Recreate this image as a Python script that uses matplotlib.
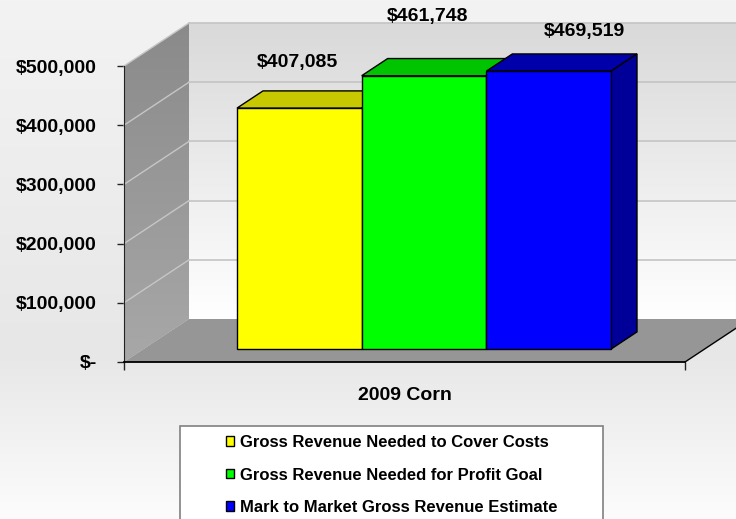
import numpy as np
import matplotlib
matplotlib.use("Agg")
import matplotlib.pyplot as plt
from matplotlib.patches import Polygon, Rectangle, Patch

# ---------------- data ----------------
category = "2009 Corn"
series_names = [
    "Gross Revenue Needed to Cover Costs",
    "Gross Revenue Needed for Profit Goal",
    "Mark to Market Gross Revenue Estimate",
]
values = [407085, 461748, 469519]
value_labels = ["$407,085", "$461,748", "$469,519"]
y_ticks = [0, 100000, 200000, 300000, 400000, 500000]
y_tick_labels = ["$-", "$100,000", "$200,000", "$300,000", "$400,000", "$500,000"]

# ---------------- style ----------------
front_colors = ["#ffff00", "#00ff00", "#0000ff"]
top_colors = ["#c8c800", "#00c400", "#0000aa"]
side_colors = ["#b4b400", "#00b000", "#000099"]
label_offsets_px = [(-15, 37), (-9, 51), (23, 31)]
FS = 14

plt.rcParams["font.family"] = ["Liberation Sans", "DejaVu Sans"]
plt.rcParams["font.weight"] = "bold"

W, H = 736, 519
fig = plt.figure(figsize=(W / 100, H / 100), dpi=100)

# background gradient
bg = fig.add_axes([0, 0, 1, 1], zorder=-10)
rows = np.linspace(0, 1, H)
stops_y = [0.0, 0.68, 1.0]
stops_c = [0xf3, 0xe7, 0xfc]
g = np.interp(rows, stops_y, stops_c) / 255.0
img = np.repeat(g[:, None, None], 3, axis=2)
bg.imshow(img, aspect="auto", extent=[0, 1, 0, 1], origin="upper")
bg.set_xlim(0, 1); bg.set_ylim(0, 1)
bg.axis("off")

# main (front plane) axes
ax = fig.add_axes([124 / W, 1 - 362 / H, 561 / W, 296 / H])
YMAX = y_ticks[-1]
DX = 65 / 561              # full depth offset in x data units
DY = 43 / 296 * YMAX       # full depth offset in y data units

def vgrad(top, bottom, n=256):
    c = np.linspace(top, bottom, n) / 255.0
    return np.repeat(c[:, None, None], 3, axis=2)

# back wall
bw = ax.imshow(vgrad(0xd9, 0xff), aspect="auto", origin="upper",
               extent=[DX, 1 + DX + 0.2, DY, YMAX + DY], zorder=1, interpolation="bilinear")
bw.set_clip_box(fig.bbox)
# side wall
side_poly = Polygon([(0, 0), (DX, DY), (DX, YMAX + DY), (0, YMAX)], closed=True,
                    facecolor="none", edgecolor="none", transform=ax.transData)
ax.add_patch(side_poly)
sw = ax.imshow(vgrad(0x8a, 0xa8), aspect="auto", origin="upper",
               extent=[0, DX, 0, YMAX + DY], zorder=2, interpolation="bilinear")
sw.set_clip_box(fig.bbox)
sw.set_clip_path(side_poly)

# gridlines (side wall + back wall)
for v in y_ticks[1:]:
    ax.plot([0, DX], [v, v + DY], color="#c6c6c6", lw=1.0, zorder=3, clip_on=False)
    ax.plot([DX, 1 + DX + 0.2], [v + DY, v + DY], color="#c4c4c4", lw=1.2, zorder=3, clip_on=False)

# floor
floor = Polygon([(0, 0), (1, 0), (1 + DX, DY), (DX, DY)], closed=True,
                facecolor="#969696", edgecolor="none", zorder=4, clip_on=False)
ax.add_patch(floor)
ax.plot([1, 1 + DX], [0, DY], color="black", lw=1.0, zorder=5, clip_on=False)

# bars
n = len(values)
GAP = 1.5
w = 1 / (n + GAP)
x0 = GAP / 2 * w
D0, BD = 0.3, 0.4
lefts = [x0 + i * w + D0 * DX for i in range(n)]
base = D0 * DY
bars = ax.bar(lefts, values, width=w, bottom=base, align="edge",
              color=front_colors, edgecolor="black", linewidth=1.0, clip_on=False)
for i, (L, v) in enumerate(zip(lefts, values)):
    T = base + v
    bars[i].set_zorder(10 + 3 * i + 2)
    top = Polygon([(L, T), (L + w, T), (L + w + BD * DX, T + BD * DY), (L + BD * DX, T + BD * DY)],
                  closed=True, facecolor=top_colors[i], edgecolor="black", lw=1.0,
                  zorder=10 + 3 * i, clip_on=False)
    side = Polygon([(L + w, base), (L + w + BD * DX, base + BD * DY),
                    (L + w + BD * DX, T + BD * DY), (L + w, T)],
                   closed=True, facecolor=side_colors[i], edgecolor="black", lw=1.0,
                   zorder=10 + 3 * i + 1, clip_on=False)
    ax.add_patch(top)
    ax.add_patch(side)
    ax.annotate(value_labels[i], xy=(L + w / 2 + BD * DX / 2, T + BD * DY / 2),
                xytext=label_offsets_px[i], textcoords="offset pixels",
                ha="center", va="center", fontsize=FS, fontweight="bold",
                zorder=30, annotation_clip=False)

ax.set_xlim(0, 1)
ax.set_ylim(0, YMAX)
ax.patch.set_visible(False)
for s in ["top", "right"]:
    ax.spines[s].set_visible(False)
ax.spines["left"].set_linestyle((0, (3, 1)))
ax.spines["left"].set_color("#222222")
ax.spines["left"].set_zorder(6)
ax.spines["bottom"].set_color("black")
ax.spines["bottom"].set_linewidth(1.3)
ax.spines["bottom"].set_zorder(6)

ax.set_yticks(y_ticks)
ax.set_yticklabels(y_tick_labels, fontsize=FS, fontweight="bold")
ax.tick_params(axis="y", direction="out", length=5, width=1, pad=14.5, color="#222222")
ax.set_xticks([0, 1])
ax.set_xticklabels(["", ""])
ax.tick_params(axis="x", which="major", direction="out", length=6, width=1, color="#222222")
ax.set_xticks([0.5], minor=True)
ax.set_xticklabels([category], minor=True, fontsize=FS, fontweight="bold")
ax.tick_params(axis="x", which="minor", length=0, pad=18)

# legend
box = Rectangle((180 / W, 1 - 540 / H), (603 - 180) / W, (540 - 426) / H,
                transform=fig.transFigure, facecolor="white", edgecolor="#808080",
                lw=1.2, zorder=40)
fig.add_artist(box)
handles = [Patch(facecolor=c, edgecolor="black", lw=1.0) for c in front_colors]
leg = fig.legend(handles, series_names, loc="upper left",
                 bbox_to_anchor=(226 / W, 1 - 435 / H), bbox_transform=fig.transFigure,
                 frameon=False, prop={"weight": "bold", "size": 12},
                 handlelength=0.5, handleheight=0.5, handletextpad=0.35,
                 labelspacing=1.05, borderpad=0, borderaxespad=0)
leg.set_zorder(50)

fig.savefig("out.png", dpi=100)
